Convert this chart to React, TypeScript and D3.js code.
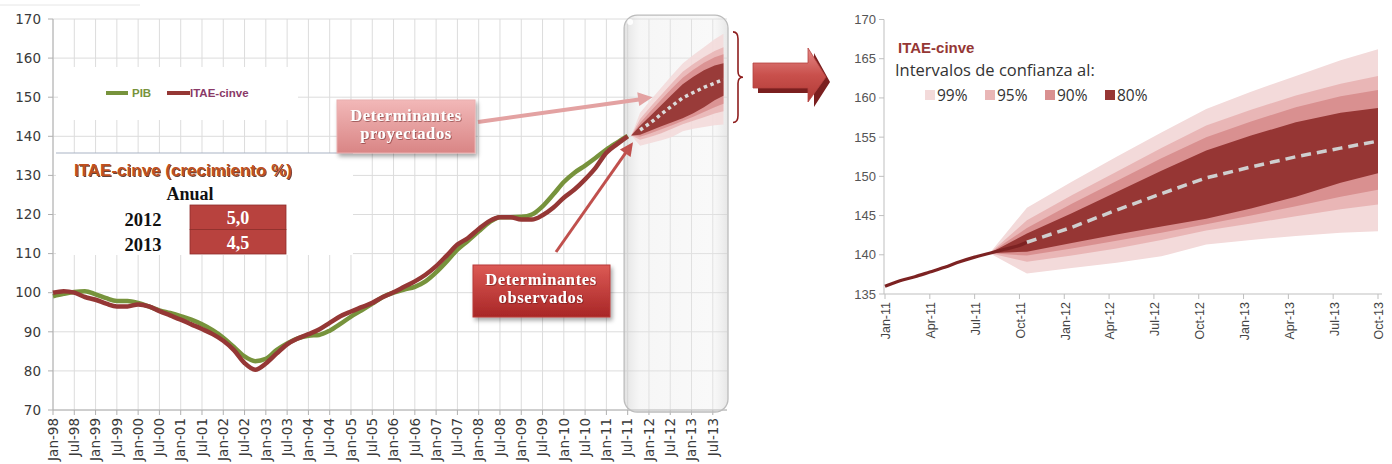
import * as d3 from 'd3';

// ---- left chart data (quarterly, Jan-98 .. Jul-11) ----
const pibValues = [
  99.1, 99.7, 100.2, 100.4, 99.6, 98.6, 97.9, 97.9, 97.4, 96.5, 95.5, 94.8,
  94.0, 93.1, 91.9, 90.4, 88.5, 86.1, 83.7, 82.5, 83.1, 85.3, 87.0, 88.3,
  89.0, 89.2, 90.3, 92.0, 93.9, 95.5, 97.2, 98.9, 100.0, 100.8, 101.5, 102.9,
  105.2, 108.0, 111.0, 113.3, 115.7, 118.0, 119.3, 119.3, 119.4, 120.0, 122.1, 125.1,
  128.3, 130.7, 132.5, 134.5, 136.6, 138.4, 140.1,
];
const itaeValues = [
  100.0, 100.4, 100.0, 98.9, 98.2, 97.2, 96.5, 96.5, 97.0, 96.5, 95.3, 94.2,
  93.1, 91.9, 90.7, 89.4, 87.7, 85.3, 82.0, 80.3, 81.9, 84.4, 86.8, 88.3,
  89.4, 90.6, 92.3, 94.0, 95.2, 96.3, 97.4, 98.9, 100.1, 101.5, 102.9, 104.6,
  106.8, 109.5, 112.3, 114.0, 116.3, 118.3, 119.3, 119.3, 118.7, 118.7, 119.8, 121.7,
  124.3, 126.4, 129.0, 132.0, 135.8, 138.0, 140.0,
];
const leftTickLabels = [
  'Jan-98', 'Jul-98', 'Jan-99', 'Jul-99', 'Jan-00', 'Jul-00', 'Jan-01', 'Jul-01',
  'Jan-02', 'Jul-02', 'Jan-03', 'Jul-03', 'Jan-04', 'Jul-04', 'Jan-05', 'Jul-05',
  'Jan-06', 'Jul-06', 'Jan-07', 'Jul-07', 'Jan-08', 'Jul-08', 'Jan-09', 'Jul-09',
  'Jan-10', 'Jul-10', 'Jan-11', 'Jul-11', 'Jan-12', 'Jul-12', 'Jan-13', 'Jul-13',
];
const leftYTicks = [70, 80, 90, 100, 110, 120, 130, 140, 150, 160, 170];
const tableYears = ['2012', '2013'];
const tableGrowth = ['5,0', '4,5'];

// ---- right chart data (months since Jan-11) ----
const rightTickLabels = [
  'Jan-11', 'Apr-11', 'Jul-11', 'Oct-11', 'Jan-12', 'Apr-12',
  'Jul-12', 'Oct-12', 'Jan-13', 'Apr-13', 'Jul-13', 'Oct-13',
];
const rightYTicks = [135, 140, 145, 150, 155, 160, 165, 170];
const histMonths = [0, 1, 2, 3, 4, 5, 6, 7, 8, 9, 9.5];
const histValues = [136.0, 136.7, 137.2, 137.8, 138.4, 139.1, 139.7, 140.2, 140.7, 141.2, 141.6];
const fanMonths = [7, 9.5, 12.5, 15.5, 18.5, 21.5, 24.5, 27.5, 30.5, 33];
const centralValues = [140.2, 141.6, 143.5, 145.7, 147.8, 149.8, 151.2, 152.5, 153.6, 154.5];
const upper99 = [140.2, 146.0, 149.3, 152.5, 155.6, 158.6, 160.8, 162.8, 164.8, 166.2];
const upper95 = [140.2, 144.4, 147.6, 150.6, 153.6, 156.5, 158.5, 160.3, 161.8, 162.8];
const upper90 = [140.2, 143.4, 146.5, 149.4, 152.3, 155.0, 157.0, 158.8, 160.2, 161.0];
const upper80 = [140.2, 142.7, 145.3, 148.0, 150.7, 153.3, 155.2, 156.9, 158.1, 158.7];
const lower80 = [140.2, 140.4, 141.5, 142.6, 143.6, 144.6, 145.9, 147.4, 149.2, 150.4];
const lower90 = [140.2, 139.9, 140.8, 141.8, 142.8, 143.9, 145.0, 146.2, 147.4, 148.3];
const lower95 = [140.2, 139.1, 139.9, 140.8, 141.9, 143.1, 144.0, 144.9, 145.8, 146.4];
const lower99 = [140.2, 137.6, 138.3, 139.0, 139.8, 141.3, 141.9, 142.4, 142.8, 143.0];
const confLevels = ['99%', '95%', '90%', '80%'];
const confColors = ['#f3dada', '#e9b6b6', '#d99090', '#963634'];

const forecastOffset = 156; // Jan-11 in months since Jan-98

export default function App() {
  // scales
  const xL = d3.scaleLinear().domain([0, 190]).range([53, 727]);
  const yL = d3.scaleLinear().domain([70, 170]).range([410, 19]);
  const xR = d3.scaleLinear().domain([0, 33]).range([885, 1378]);
  const yR = d3.scaleLinear().domain([135, 170]).range([294, 19.5]);

  const bands = [
    { lo: lower99, hi: upper99 },
    { lo: lower95, hi: upper95 },
    { lo: lower90, hi: upper90 },
    { lo: lower80, hi: upper80 },
  ];

  const fanArea = (lo: number[], xs: (m: number) => number, ys: (v: number) => number) =>
    d3
      .area<number>()
      .x((_, i) => xs(fanMonths[i]))
      .y0((_, i) => ys(lo[i]))
      .y1((d) => ys(d));

  const leftLine = d3
    .line<number>()
    .x((_, i) => xL(i * 3))
    .y((d) => yL(d))
    .curve(d3.curveMonotoneX);

  // forecast centre line (skips the first fan point, where the history ends)
  const centralLine = (xs: (m: number) => number, ys: (v: number) => number) =>
    d3
      .line<number>()
      .x((_, i) => xs(fanMonths[i + 1]))
      .y((d) => ys(d));

  const histLine = d3
    .line<number>()
    .x((_, i) => xR(histMonths[i]))
    .y((d) => yR(d))
    .curve(d3.curveMonotoneX);

  const lastFan = fanMonths.length - 1;
  const braceX = xL(190) + 6;
  const braceTop = yL(upper99[lastFan]) - 2;
  const braceBot = yL(lower99[lastFan]) - 2;
  const braceMid = (braceTop + braceBot) / 2;

  // highlight box around the forecast
  const hx0 = xL(161);
  const hx1 = xL(190) + 1;
  const hy0 = yL(171);
  const hy1 = yL(70) + 2;

  const sans = 'Liberation Sans, Arial, sans-serif';
  const serif = 'Liberation Serif, DejaVu Serif, serif';

  // arrow targets
  const projTip = [xL(forecastOffset + 13), yL(150)];
  const obsTip = [xL(forecastOffset + 7.5), yL(138.5)];

  const arrowHead = (x1: number, y1: number, x2: number, y2: number, size: number) => {
    const a = Math.atan2(y2 - y1, x2 - x1);
    const p1 = [x2 - size * Math.cos(a - 0.45), y2 - size * Math.sin(a - 0.45)];
    const p2 = [x2 - size * Math.cos(a + 0.45), y2 - size * Math.sin(a + 0.45)];
    return `M${x2},${y2}L${p1[0]},${p1[1]}L${p2[0]},${p2[1]}Z`;
  };

  const boxText = {
    textAnchor: 'middle' as const,
    fontFamily: serif,
    fontWeight: 'bold',
    fontSize: 16.5,
    letterSpacing: 0.6,
    fill: '#fff',
    filter: 'url(#textShadow)',
  };

  return (
    <svg
      width={1392}
      height={464}
      style={{ position: 'absolute', left: 0, top: 0, background: '#fff' }}
    >
      <defs>
        <filter id="shadow" x="-20%" y="-20%" width="140%" height="150%">
          <feDropShadow dx="2" dy="3" stdDeviation="2" floodColor="#000" floodOpacity="0.35" />
        </filter>
        <filter id="textShadow" x="-10%" y="-30%" width="120%" height="160%">
          <feDropShadow dx="0.8" dy="0.8" stdDeviation="0.6" floodColor="#5a1010" floodOpacity="0.6" />
        </filter>
        <linearGradient id="greyBox" x1="0" x2="1" y1="0" y2="0">
          <stop offset="0" stopColor="#cacaca" stopOpacity="0.55" />
          <stop offset="0.15" stopColor="#e6e6e6" stopOpacity="0.35" />
          <stop offset="0.85" stopColor="#ebebeb" stopOpacity="0.3" />
          <stop offset="1" stopColor="#d2d2d2" stopOpacity="0.55" />
        </linearGradient>
        <linearGradient id="projFill" x1="0" x2="0" y1="0" y2="1">
          <stop offset="0" stopColor="#f2b8b8" />
          <stop offset="1" stopColor="#d98585" />
        </linearGradient>
        <linearGradient id="obsFill" x1="0" x2="0" y1="0" y2="1">
          <stop offset="0" stopColor="#dc5a55" />
          <stop offset="1" stopColor="#a82626" />
        </linearGradient>
        <linearGradient id="bigArrow" x1="0" x2="0" y1="0" y2="1">
          <stop offset="0" stopColor="#e58a88" />
          <stop offset="0.5" stopColor="#c9504c" />
          <stop offset="1" stopColor="#b03a36" />
        </linearGradient>
      </defs>

      {/* ================= LEFT CHART ================= */}
      <line x1={0} x2={140} y1={5} y2={5} stroke="#e6e6e6" />
      {/* gridlines */}
      {leftYTicks.map((t) => (
        <line key={'hg' + t} x1={xL(0)} x2={xL(190)} y1={yL(t)} y2={yL(t)} stroke="#dcdcdc" />
      ))}
      {leftTickLabels.map((l, i) => (
        <line key={'vg' + l} x1={xL(i * 6)} x2={xL(i * 6)} y1={yL(170)} y2={yL(70)} stroke="#dcdcdc" />
      ))}
      {/* axes */}
      <line x1={xL(0)} x2={xL(0)} y1={yL(170)} y2={yL(70)} stroke="#b0b0b0" />
      <line x1={xL(0)} x2={xL(190)} y1={yL(70)} y2={yL(70)} stroke="#b0b0b0" />
      {leftYTicks.map((t) => (
        <g key={'yt' + t}>
          <line x1={xL(0) - 5} x2={xL(0)} y1={yL(t)} y2={yL(t)} stroke="#b0b0b0" />
          <text
            x={xL(0) - 12}
            y={yL(t)}
            dy="0.35em"
            textAnchor="end"
            fontFamily="DejaVu Sans, sans-serif"
            fontSize={13.5}
            fill="#3a3a3a"
          >
            {t}
          </text>
        </g>
      ))}
      {leftTickLabels.map((l, i) => (
        <g key={'xt' + l}>
          <line x1={xL(i * 6)} x2={xL(i * 6)} y1={yL(70)} y2={yL(70) + 5} stroke="#b0b0b0" />
          <text
            transform={`translate(${xL(i * 6)},${yL(70) + 8}) rotate(-90)`}
            dy="0.35em"
            textAnchor="end"
            fontFamily="DejaVu Sans, sans-serif"
            fontSize={13.5}
            fill="#3a3a3a"
          >
            {l}
          </text>
        </g>
      ))}

      {/* highlight box */}
      <rect
        x={hx0}
        y={hy0}
        width={hx1 - hx0}
        height={hy1 - hy0}
        rx={13}
        fill="url(#greyBox)"
        stroke="#bcbcbc"
        strokeWidth={1.3}
      />
      <circle cx={hx0 + 6} cy={hy0 + 7} r={3} fill="#fff" opacity={0.9} />

      {/* fan (left) */}
      {bands.map((b, i) => (
        <path
          key={'lf' + i}
          d={fanArea(b.lo, (m) => xL(forecastOffset + m), yL)(b.hi) || ''}
          fill={confColors[i]}
          opacity={i === 3 ? 0.95 : 0.9}
        />
      ))}
      <path
        d={centralLine((m) => xL(forecastOffset + m), yL)(centralValues.slice(1)) || ''}
        fill="none"
        stroke="#dcdcdc"
        strokeWidth={3.5}
        strokeDasharray="3.5 3.5"
      />

      {/* series */}
      <path d={leftLine(pibValues) || ''} fill="none" stroke="#77933c" strokeWidth={4.5} strokeLinejoin="round" />
      <path d={leftLine(itaeValues) || ''} fill="none" stroke="#953735" strokeWidth={4.5} strokeLinejoin="round" />

      {/* legend box */}
      <rect x={58} y={67} width={240} height={53} fill="#fff" />
      <line x1={106} x2={128} y1={93} y2={93} stroke="#77933c" strokeWidth={4} />
      <text x={132} y={97} fontFamily={sans} fontWeight="bold" fontSize={11.5} fill="#77933c">
        PIB
      </text>
      <line x1={167} x2={190} y1={93} y2={93} stroke="#953735" strokeWidth={4} />
      <text x={190} y={97} fontFamily={sans} fontWeight="bold" fontSize={11.5} fill="#8a3a68">
        ITAE-cinve
      </text>

      {/* growth table */}
      <rect x={56} y={153} width={297} height={102} fill="#fff" />
      <line x1={56} x2={353} y1={153} y2={153} stroke="#a9b3c4" strokeWidth={1} />
      <text x={74} y={176} fontFamily={sans} fontWeight="bold" fontSize={17} fill="#3a1408" opacity={0.8} transform="translate(1,1)">
        ITAE-cinve (crecimiento %)
      </text>
      <text x={74} y={176} fontFamily={sans} fontWeight="bold" fontSize={17} fill="#c0501e">
        ITAE-cinve (crecimiento %)
      </text>
      <text x={190} y={200} textAnchor="middle" fontFamily={serif} fontWeight="bold" fontSize={18} fill="#111">
        Anual
      </text>
      {tableYears.map((yr, i) => (
        <g key={yr}>
          <text x={143} y={226 + i * 24.5} textAnchor="middle" fontFamily={serif} fontWeight="bold" fontSize={18.5} fill="#111">
            {yr}
          </text>
          <rect x={190} y={205 + i * 24.5} width={96} height={24.5} fill="#b8423e" stroke="#8e2e2b" strokeWidth={0.8} />
          <text x={238} y={224 + i * 24.5} textAnchor="middle" fontFamily={serif} fontWeight="bold" fontSize={18} fill="#fff">
            {tableGrowth[i]}
          </text>
        </g>
      ))}

      {/* annotation: projected */}
      <line x1={478} y1={122} x2={projTip[0] - 8} y2={projTip[1] + 1.5} stroke="#e3a2a2" strokeWidth={4} />
      <path d={arrowHead(478, 122, projTip[0], projTip[1], 16)} fill="#e3a2a2" />
      <rect x={337} y={100} width={138} height={53} fill="url(#projFill)" stroke="#eab0b0" filter="url(#shadow)" />
      <text x={406} y={121} {...boxText}>
        Determinantes
      </text>
      <text x={406} y={139} {...boxText}>
        proyectados
      </text>

      {/* annotation: observed */}
      <line x1={556} y1={252} x2={obsTip[0] - 4} y2={obsTip[1] + 6} stroke="#c0504d" strokeWidth={3} />
      <path d={arrowHead(556, 252, obsTip[0], obsTip[1], 15)} fill="#c0504d" />
      <rect x={473} y={265} width={137} height={52} fill="url(#obsFill)" stroke="#b83b38" filter="url(#shadow)" />
      <text x={541} y={285} {...boxText}>
        Determinantes
      </text>
      <text x={541} y={303} {...boxText}>
        observados
      </text>

      {/* brace */}
      <path
        d={`M${braceX},${braceTop} Q${braceX + 5},${braceTop} ${braceX + 5},${braceTop + 7} L${braceX + 5},${braceMid - 6} Q${braceX + 5},${braceMid} ${braceX + 10},${braceMid} Q${braceX + 5},${braceMid} ${braceX + 5},${braceMid + 6} L${braceX + 5},${braceBot - 7} Q${braceX + 5},${braceBot} ${braceX},${braceBot}`}
        fill="none"
        stroke="#8e1e1e"
        strokeWidth={1.6}
      />

      {/* big arrow */}
      <path d="M758,68 L814,68 L814,53 L830,82 L814,107 L814,93 L758,93 Z" fill="#7a1f1f" />
      <path d="M753,63 L808,63 L808,48 L826,77 L808,102 L808,88 L753,88 Z" fill="url(#bigArrow)" stroke="#b54340" strokeWidth={0.8} />

      {/* ================= RIGHT CHART ================= */}
      <line x1={884} x2={884} y1={yR(170)} y2={yR(135)} stroke="#bfbfbf" />
      <line x1={884} x2={1382} y1={yR(135)} y2={yR(135)} stroke="#bfbfbf" />
      {rightYTicks.map((t) => (
        <g key={'ryt' + t}>
          <line x1={879} x2={884} y1={yR(t)} y2={yR(t)} stroke="#bfbfbf" />
          <text x={876} y={yR(t)} dy="0.35em" textAnchor="end" fontFamily={sans} fontSize={13} fill="#555">
            {t}
          </text>
        </g>
      ))}
      {rightTickLabels.map((l, i) => (
        <g key={'rxt' + l}>
          <line x1={xR(i * 3)} x2={xR(i * 3)} y1={yR(135)} y2={yR(135) + 5} stroke="#bfbfbf" />
          <text
            transform={`translate(${xR(i * 3) + 1},${yR(135) + 8}) rotate(-90)`}
            dy="0.35em"
            textAnchor="end"
            fontFamily={sans}
            fontSize={12.5}
            fill="#444"
          >
            {l}
          </text>
        </g>
      ))}

      {bands.map((b, i) => (
        <path key={'rf' + i} d={fanArea(b.lo, xR, yR)(b.hi) || ''} fill={confColors[i]} />
      ))}
      <path d={histLine(histValues) || ''} fill="none" stroke="#7c2222" strokeWidth={3.2} />
      <path
        d={centralLine(xR, yR)(centralValues.slice(1)) || ''}
        fill="none"
        stroke="#cfcfcf"
        strokeWidth={3.5}
        strokeDasharray="10 6"
      />

      {/* right legend */}
      <text x={898} y={53} fontFamily={sans} fontWeight="bold" fontSize={15} fill="#953735">
        ITAE-cinve
      </text>
      <text x={895} y={76} fontFamily="Open Sans, sans-serif" fontSize={16.5} fill="#333">
        Intervalos de confianza al:
      </text>
      {confLevels.map((c, i) => (
        <g key={c}>
          <rect x={925 + i * 60} y={90} width={10} height={10} fill={confColors[i]} />
          <text x={937 + i * 60} y={101} fontFamily="Open Sans, sans-serif" fontSize={15.5} fill="#333">
            {c}
          </text>
        </g>
      ))}
    </svg>
  );
}
